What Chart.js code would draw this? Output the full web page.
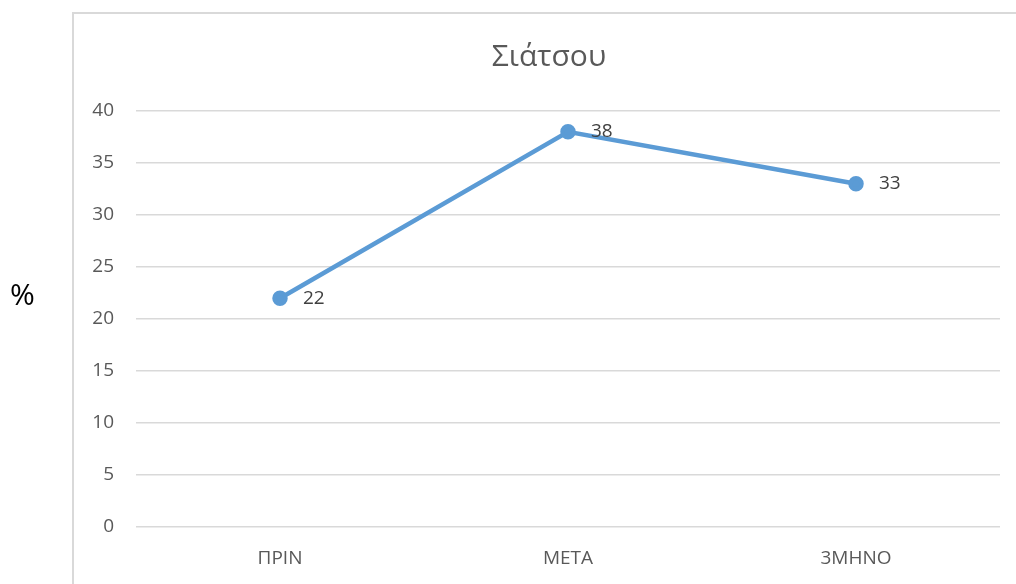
<!DOCTYPE html>
<html>
<head>
<meta charset="utf-8">
<script src="https://cdn.jsdelivr.net/npm/chart.js@4"></script>
<style>
    html, body { margin: 0; padding: 0; background: #fff; }
    #wrap { position: relative; width: 1016px; height: 584px; overflow: hidden; }
    #pct { position: absolute; left: 10px; top: 273px; font: 30px "Open Sans", sans-serif; color: #000; }
</style>
</head>
<body>
<div id="wrap">
    <canvas id="chart" width="1016" height="584"></canvas>
    <div id="pct">%</div>
</div>
<script>
const categories = ['ΠΡΙΝ', 'ΜΕΤΑ', '3ΜΗΝΟ'];
const values = [22, 38, 33];
const yTicks = [0, 5, 10, 15, 20, 25, 30, 35, 40];
const chartTitle = 'Σιάτσου';

const FONT = '"Open Sans", sans-serif';

// outer frame of the chart object (runs off the bottom/right of the picture)
const framePlugin = {
    id: 'frame',
    beforeDraw(chart) {
        const c = chart.ctx;
        c.save();
        c.strokeStyle = '#d9d9d9';
        c.lineWidth = 2;
        c.strokeRect(73, 13, 1100, 700);
        c.restore();
    }
};

// title centred on the whole chart object, not the plot
const titlePlugin = {
    id: 'excelTitle',
    afterDraw(chart) {
        const c = chart.ctx;
        c.save();
        c.font = '30px ' + FONT;
        c.fillStyle = '#595959';
        c.textAlign = 'center';
        c.textBaseline = 'alphabetic';
        c.fillText(chartTitle, 549, 66);
        c.restore();
    }
};

// value labels to the right of each point
const valueLabels = {
    id: 'valueLabels',
    afterDatasetsDraw(chart) {
        const c = chart.ctx;
        const meta = chart.getDatasetMeta(0);
        c.save();
        c.font = '19px ' + FONT;
        c.fillStyle = '#404040';
        c.textAlign = 'left';
        c.textBaseline = 'middle';
        meta.data.forEach((pt, i) => {
            c.fillText(String(values[i]), pt.x + 23, pt.y);
        });
        c.restore();
    }
};

new Chart(document.getElementById('chart'), {
    type: 'line',
    data: {
        labels: categories,
        datasets: [{
            data: values,
            borderColor: '#5b9bd5',
            backgroundColor: '#5b9bd5',
            borderWidth: 4.5,
            pointRadius: 5.5,
            pointHoverRadius: 5.5,
            tension: 0
        }]
    },
    options: {
        responsive: false,
        animation: false,
        layout: { padding: { left: 72, right: 16, top: 111, bottom: 0 } },
        plugins: {
            legend: { display: false },
            tooltip: { enabled: false },
            title: { display: false }
        },
        scales: {
            x: {
                offset: true,
                grid: { display: false },
                border: { display: false },
                ticks: { color: '#595959', font: { family: FONT, size: 19 }, padding: 12 },
                afterFit: (s) => { s.height = 57; }
            },
            y: {
                min: 0,
                max: 40,
                afterBuildTicks: (s) => { s.ticks = yTicks.map(v => ({ value: v })); },
                grid: { color: '#d9d9d9', lineWidth: 1.5, drawTicks: false },
                border: { display: false },
                ticks: { color: '#595959', font: { family: FONT, size: 19 }, padding: 22 },
                afterFit: (s) => { s.width = 64; }
            }
        }
    },
    plugins: [framePlugin, titlePlugin, valueLabels]
});
</script>
</body>
</html>
